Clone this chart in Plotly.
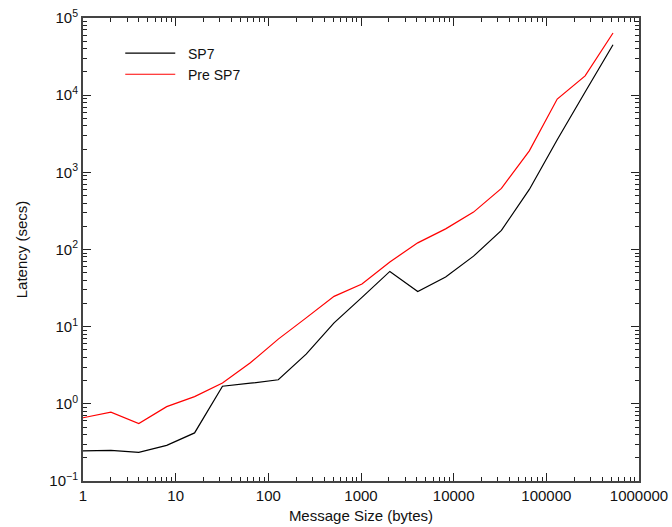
import plotly.graph_objects as go

sizes = [1, 2, 4, 8, 16, 32, 64, 128, 256, 512, 1024, 2048, 4096, 8192,
         16384, 32768, 65536, 131072, 262144, 524288]
sp7 = [0.245, 0.25, 0.235, 0.29, 0.42, 1.69, 1.85, 2.05, 4.4, 11.2, 24, 52,
       28.6, 44, 82, 177, 600, 2650, 11000, 45000]
pre_sp7 = [0.66, 0.78, 0.555, 0.92, 1.24, 1.86, 3.4, 6.9, 13, 24.7, 35.8, 69,
           122, 185, 305, 620, 1900, 8900, 17800, 64000]
series_names = ["SP7", "Pre SP7"]

x_major = [1, 10, 100, 1000, 10000, 100000, 1000000]
x_major_text = ["1", "10", "100", "1000", "10000", "100000", "1000000"]
y_major = [0.1, 1, 10, 100, 1000, 10000, 100000]
y_major_text = ["10<sup>−1</sup>", "10<sup>0</sup>", "10<sup>1</sup>", "10<sup>2</sup>",
                "10<sup>3</sup>", "10<sup>4</sup>", "10<sup>5</sup>"]

def minors(majors):
    out = []
    for m in majors[:-1]:
        out += [m * k for k in range(2, 10)]
    return out

FONT = "Liberation Sans, Arial"
PAD = "\u00a0\u00a0"

fig = go.Figure()
fig.add_trace(go.Scatter(x=sizes, y=sp7, mode="lines", name=PAD + series_names[0],
                         line=dict(color="black", width=1.2)))
fig.add_trace(go.Scatter(x=sizes, y=pre_sp7, mode="lines", name=PAD + series_names[1],
                         line=dict(color="red", width=1.2)))

axis_common = dict(
    showgrid=False, zeroline=False, showline=True, linecolor="#444",
    linewidth=2, mirror="ticks", ticks="inside", ticklen=8, tickwidth=1.2,
    tickcolor="#222", automargin=False,
    tickfont=dict(family=FONT, size=15, color="#111"),
)

fig.update_xaxes(type="log", range=[0, 6], tickmode="array", tickvals=x_major,
                 ticktext=x_major_text,
                 minor=dict(ticks="inside", ticklen=4, tickcolor="#222", tickwidth=1,
                            tickmode="array", tickvals=minors(x_major), showgrid=False),
                 title=dict(text="Message Size (bytes)",
                            font=dict(family=FONT, size=15, color="#111"),
                            standoff=7),
                 **axis_common)
fig.update_yaxes(type="log", range=[-1, 5], tickmode="array", tickvals=y_major,
                 ticktext=y_major_text,
                 minor=dict(ticks="inside", ticklen=4, tickcolor="#222", tickwidth=1,
                            tickmode="array", tickvals=minors(y_major), showgrid=False),
                 title=dict(text="Latency (secs)",
                            font=dict(family=FONT, size=15, color="#111"),
                            standoff=18),
                 **axis_common)

fig.update_layout(
    width=672, height=527,
    margin=dict(l=83, r=33, t=18, b=46),
    plot_bgcolor="white", paper_bgcolor="white",
    font=dict(family=FONT, size=15, color="#111"),
    legend=dict(x=0.067, y=0.958, xanchor="left", yanchor="top",
                bgcolor="rgba(0,0,0,0)", font=dict(family=FONT, size=14),
                itemwidth=50, tracegroupgap=0),
    showlegend=True,
)

fig.write_html("out.html")
